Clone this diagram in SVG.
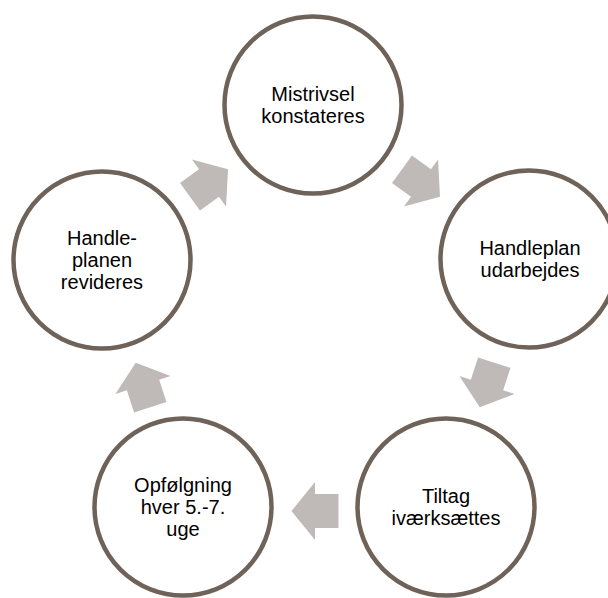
<svg xmlns="http://www.w3.org/2000/svg" width="608" height="598" viewBox="0 0 608 598">
<defs>
<style>
.node{fill:#ffffff;stroke:#6e6259;stroke-width:4.5}
.arr{fill:#bfbab7}
.t{font-family:"Liberation Sans",Arial,sans-serif;font-size:20px;fill:#000;text-anchor:middle}
</style>
<polygon id="arrow" points="-23.5,-17 0,-17 0,-29 23.5,0 0,29 0,17 -23.5,17"/>
</defs>
<rect width="608" height="598" fill="#ffffff"/>
<g id="connectors" class="arr">
<use href="#arrow" transform="translate(421,183) rotate(36)"/>
<use href="#arrow" transform="translate(487,385) rotate(108)"/>
<use href="#arrow" transform="translate(315,511) rotate(180)"/>
<use href="#arrow" transform="translate(143,385) rotate(252)"/>
<use href="#arrow" transform="translate(209,183) rotate(324)"/>
</g>
<g id="node1">
<circle class="node" cx="313" cy="105" r="88.5"/>
<text class="t" x="313"><tspan x="313" y="101">Mistrivsel</tspan><tspan x="313" y="123">konstateres</tspan></text>
</g>
<g id="node2">
<circle class="node" cx="529" cy="259" r="88.5"/>
<text class="t"><tspan x="530" y="255">Handleplan</tspan><tspan x="530" y="277">udarbejdes</tspan></text>
</g>
<g id="node3">
<circle class="node" cx="446" cy="507" r="88.5"/>
<text class="t"><tspan x="446" y="503">Tiltag</tspan><tspan x="446" y="525">iværksættes</tspan></text>
</g>
<g id="node4">
<circle class="node" cx="183" cy="507" r="88.5"/>
<text class="t"><tspan x="183" y="492">Opfølgning</tspan><tspan x="183" y="514">hver 5.-7.</tspan><tspan x="183" y="536">uge</tspan></text>
</g>
<g id="node5">
<circle class="node" cx="102" cy="260" r="88.5"/>
<text class="t"><tspan x="102" y="245">Handle-</tspan><tspan x="102" y="267">planen</tspan><tspan x="102" y="289">revideres</tspan></text>
</g>
</svg>
